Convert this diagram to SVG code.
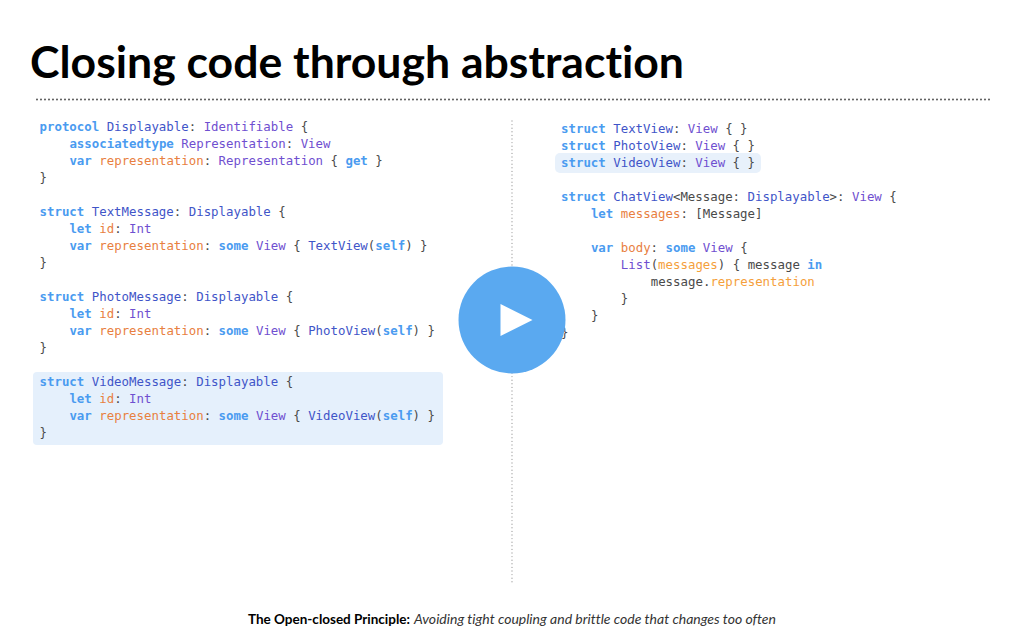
<svg xmlns="http://www.w3.org/2000/svg" width="1024" height="640" viewBox="0 0 1024 640">
<style>
.c{font-family:"DejaVu Sans Mono","Liberation Mono",monospace;font-size:12.4px;fill:#4a4a4a;white-space:pre}
.k{fill:#4a9bf0;font-weight:600}
.t{fill:#3f55c8}
.p{fill:#6f4fd0}
.o{fill:#e8803f}
.y{fill:#f5a03c}
.d{stroke-linecap:round;fill:none}
.s{font-family:Lato,"Noto Sans",sans-serif;font-variant-ligatures:none}
</style>
<rect width="1024" height="640" fill="#ffffff"/>
<g id="title"><text class="s" x="30" y="77.5" font-weight="700" font-size="44" fill="#000" textLength="654" lengthAdjust="spacingAndGlyphs">Closing code through abstraction</text></g>
<g id="dividers">
<line class="d" x1="37" y1="99.5" x2="993" y2="99.5" stroke="#444" stroke-width="1.8" stroke-dasharray="0 4"/>
<line class="d" x1="512" y1="121" x2="512" y2="582" stroke="#aaa" stroke-width="1.4" stroke-dasharray="0 3.6"/>
</g>
<g id="highlights">
<rect x="33" y="372" width="410" height="73" rx="4" fill="#e5f0fc"/>
<rect x="555" y="153" width="206" height="20" rx="5" fill="#e8f1fb"/>
</g>
<g id="code-left" class="c">
<text x="39.5" y="130.5"><tspan class="k">protocol</tspan> <tspan class="t">Displayable</tspan>: <tspan class="p">Identifiable</tspan> {</text>
<text x="69.4" y="147.5"><tspan class="k">associatedtype</tspan> <tspan class="p">Representation</tspan>: <tspan class="p">View</tspan></text>
<text x="69.4" y="164.5"><tspan class="k">var</tspan> <tspan class="o">representation</tspan>: <tspan class="p">Representation</tspan> { <tspan class="k">get</tspan> }</text>
<text x="39.5" y="181.5">}</text>
<text x="39.5" y="215.5"><tspan class="k">struct</tspan> <tspan class="t">TextMessage</tspan>: <tspan class="t">Displayable</tspan> {</text>
<text x="69.4" y="232.5"><tspan class="k">let</tspan> <tspan class="o">id</tspan>: <tspan class="p">Int</tspan></text>
<text x="69.4" y="249.5"><tspan class="k">var</tspan> <tspan class="o">representation</tspan>: <tspan class="k">some</tspan> <tspan class="p">View</tspan> { <tspan class="t">TextView</tspan>(<tspan class="k">self</tspan>) }</text>
<text x="39.5" y="266.5">}</text>
<text x="39.5" y="300.5"><tspan class="k">struct</tspan> <tspan class="t">PhotoMessage</tspan>: <tspan class="t">Displayable</tspan> {</text>
<text x="69.4" y="317.5"><tspan class="k">let</tspan> <tspan class="o">id</tspan>: <tspan class="p">Int</tspan></text>
<text x="69.4" y="334.5"><tspan class="k">var</tspan> <tspan class="o">representation</tspan>: <tspan class="k">some</tspan> <tspan class="p">View</tspan> { <tspan class="t">PhotoView</tspan>(<tspan class="k">self</tspan>) }</text>
<text x="39.5" y="351.5">}</text>
<text x="39.5" y="385.5"><tspan class="k">struct</tspan> <tspan class="t">VideoMessage</tspan>: <tspan class="t">Displayable</tspan> {</text>
<text x="69.4" y="402.5"><tspan class="k">let</tspan> <tspan class="o">id</tspan>: <tspan class="p">Int</tspan></text>
<text x="69.4" y="419.5"><tspan class="k">var</tspan> <tspan class="o">representation</tspan>: <tspan class="k">some</tspan> <tspan class="p">View</tspan> { <tspan class="t">VideoView</tspan>(<tspan class="k">self</tspan>) }</text>
<text x="39.5" y="436.5">}</text>
</g>
<g id="code-right" class="c">
<text x="561" y="132.5"><tspan class="k">struct</tspan> <tspan class="t">TextView</tspan>: <tspan class="p">View</tspan> { }</text>
<text x="561" y="149.5"><tspan class="k">struct</tspan> <tspan class="t">PhotoView</tspan>: <tspan class="p">View</tspan> { }</text>
<text x="561" y="166.5"><tspan class="k">struct</tspan> <tspan class="t">VideoView</tspan>: <tspan class="p">View</tspan> { }</text>
<text x="561" y="200.5"><tspan class="k">struct</tspan> <tspan class="t">ChatView</tspan>&lt;Message: <tspan class="t">Displayable</tspan>&gt;: <tspan class="p">View</tspan> {</text>
<text x="590.9" y="217.5"><tspan class="k">let</tspan> <tspan class="o">messages</tspan>: [Message]</text>
<text x="590.9" y="251.5"><tspan class="k">var</tspan> <tspan class="o">body</tspan>: <tspan class="k">some</tspan> <tspan class="p">View</tspan> {</text>
<text x="620.8" y="268.5"><tspan class="p">List</tspan>(<tspan class="y">messages</tspan>) { message <tspan class="k">in</tspan></text>
<text x="650.7" y="285.5">message.<tspan class="y">representation</tspan></text>
<text x="620.8" y="302.5">}</text>
<text x="590.9" y="319.5">}</text>
<text x="561" y="336.5">}</text>
</g>
<g id="play-button">
<circle cx="512" cy="320" r="53.5" fill="#5aa9f0"/>
<polygon points="500.5,304 532.5,320 500.5,336" fill="#fff"/>
</g>
<g id="caption">
<text class="s" x="248" y="624" font-size="13.5" font-weight="700" fill="#000" textLength="162" lengthAdjust="spacingAndGlyphs">The Open-closed Principle:</text>
<text class="s" x="414" y="624" font-size="13.5" font-style="italic" fill="#333" textLength="362" lengthAdjust="spacingAndGlyphs">Avoiding tight coupling and brittle code that changes too often</text>
</g>
</svg>
